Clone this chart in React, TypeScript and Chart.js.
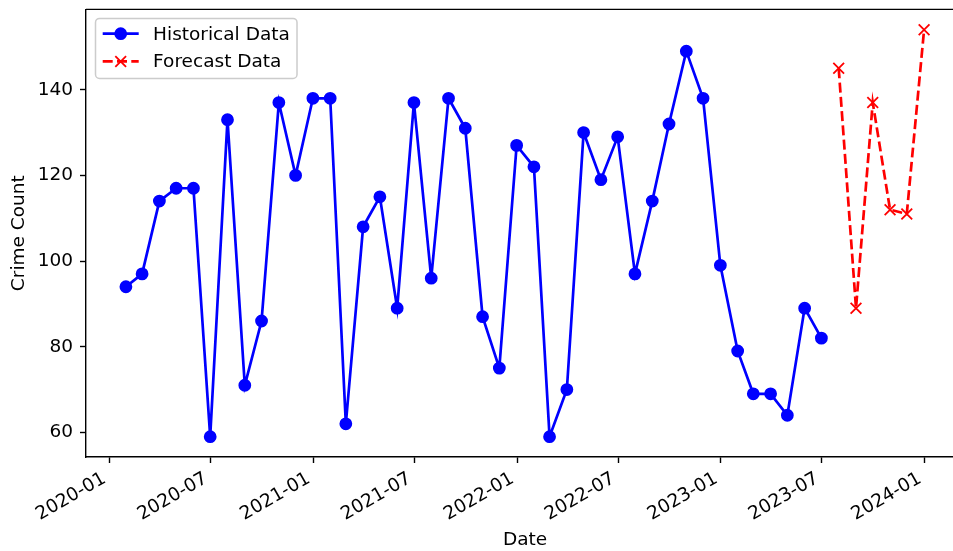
import React, { useEffect, useRef } from 'react';
import { Chart, registerables } from 'chart.js';

Chart.register(...registerables);

// ---- data ----
const historicalDates = [
  '2020-01-31', '2020-02-29', '2020-03-31', '2020-04-30', '2020-05-31', '2020-06-30',
  '2020-07-31', '2020-08-31', '2020-09-30', '2020-10-31', '2020-11-30', '2020-12-31',
  '2021-01-31', '2021-02-28', '2021-03-31', '2021-04-30', '2021-05-31', '2021-06-30',
  '2021-07-31', '2021-08-31', '2021-09-30', '2021-10-31', '2021-11-30', '2021-12-31',
  '2022-01-31', '2022-02-28', '2022-03-31', '2022-04-30', '2022-05-31', '2022-06-30',
  '2022-07-31', '2022-08-31', '2022-09-30', '2022-10-31', '2022-11-30', '2022-12-31',
  '2023-01-31', '2023-02-28', '2023-03-31', '2023-04-30', '2023-05-31', '2023-06-30',
];
const historicalCounts = [
  94, 97, 114, 117, 117, 59,
  133, 71, 86, 137, 120, 138,
  138, 62, 108, 115, 89, 137,
  96, 138, 131, 87, 75, 127,
  122, 59, 70, 130, 119, 129,
  97, 114, 132, 149, 138, 99,
  79, 69, 69, 64, 89, 82,
];
const forecastDates = ['2023-07-31', '2023-08-31', '2023-09-30', '2023-10-31', '2023-11-30', '2023-12-31'];
const forecastCounts = [145, 89, 137, 112, 111, 154];

const xTickLabels = ['2020-01', '2020-07', '2021-01', '2021-07', '2022-01', '2022-07', '2023-01', '2023-07', '2024-01'];
const yTickValues = [60, 80, 100, 120, 140];
const seriesLabels = ['Historical Data', 'Forecast Data'];
const xAxisTitle = 'Date';
const yAxisTitle = 'Crime Count';

// ---- helpers ----
const toDay = (s: string) => {
  const p = s.split('-').map(Number);
  return Date.UTC(p[0], p[1] - 1, p[2] || 1) / 86400000;
};

const FONT_FAMILY = '"DejaVu Sans", "Liberation Sans", sans-serif';
const FS = 18.5;
const BLUE = '#0000ff';
const RED = '#ff0000';

export default function App() {
  const ref = useRef<HTMLCanvasElement | null>(null);

  useEffect(() => {
    const canvas = ref.current;
    if (!canvas) return;

    const hist = historicalDates.map((d, i) => ({ x: toDay(d), y: historicalCounts[i] }));
    const fc = forecastDates.map((d, i) => ({ x: toDay(d), y: forecastCounts[i] }));
    const allX = [...hist, ...fc].map((p) => p.x);
    const allY = [...hist, ...fc].map((p) => p.y);
    const x0 = Math.min(...allX), x1 = Math.max(...allX);
    const y0 = Math.min(...allY), y1 = Math.max(...allY);
    const xm = (x1 - x0) * 0.05, ym = (y1 - y0) * 0.05;
    const xTickValues = xTickLabels.map((l) => toDay(l + '-01'));

    const framePlugin = {
      id: 'framePlugin',
      afterDraw(chart: any) {
        const ctx = chart.ctx;
        const ca = chart.chartArea;
        ctx.save();
        // top & right spines
        ctx.strokeStyle = '#000';
        ctx.lineWidth = 1.4;
        ctx.beginPath();
        ctx.moveTo(ca.left, ca.top);
        ctx.lineTo(ca.right, ca.top);
        ctx.lineTo(ca.right, ca.bottom);
        ctx.stroke();

        // rotated x tick labels (matplotlib style: bbox right at tick, bbox top below tick)
        const xs = chart.scales.x;
        ctx.font = `${FS}px ${FONT_FAMILY}`;
        ctx.fillStyle = '#000';
        ctx.textAlign = 'right';
        ctx.textBaseline = 'alphabetic';
        const th = Math.PI / 6;
        const h = FS * 0.983;
        const desc = FS * 0.236;
        const topY = ca.bottom + 6.3 + 6.3;
        xTickLabels.forEach((lab, i) => {
          const px = xs.getPixelForValue(xTickValues[i]);
          ctx.save();
          ctx.translate(px, topY + h * Math.cos(th));
          ctx.rotate(-th);
          ctx.fillText(lab, 0, -desc);
          ctx.restore();
        });

        // legend
        const bx = ca.left + 9.5;
        const by = ca.top + 9;
        const pad = 7.2, hl = 36, tp = 14.4;
        const tw = Math.max(...seriesLabels.map((l) => ctx.measureText(l).width));
        const bw = pad + hl + tp + tw + pad;
        const bh = 60;
        const r = 4;
        ctx.beginPath();
        ctx.moveTo(bx + r, by);
        ctx.lineTo(bx + bw - r, by);
        ctx.arcTo(bx + bw, by, bx + bw, by + r, r);
        ctx.lineTo(bx + bw, by + bh - r);
        ctx.arcTo(bx + bw, by + bh, bx + bw - r, by + bh, r);
        ctx.lineTo(bx + r, by + bh);
        ctx.arcTo(bx, by + bh, bx, by + bh - r, r);
        ctx.lineTo(bx, by + r);
        ctx.arcTo(bx, by, bx + r, by, r);
        ctx.closePath();
        ctx.fillStyle = 'rgba(255,255,255,0.8)';
        ctx.fill();
        ctx.strokeStyle = '#cccccc';
        ctx.lineWidth = 1.5;
        ctx.stroke();

        const rows = [by + 15.3, by + 43];
        const hx0 = bx + pad;
        const hx1 = hx0 + hl;
        const mx = (hx0 + hx1) / 2;
        chart.data.datasets.forEach((ds: any, i: number) => {
          const yy = rows[i];
          ctx.save();
          ctx.strokeStyle = ds.borderColor;
          ctx.lineWidth = ds.borderWidth;
          ctx.setLineDash(ds.borderDash || []);
          ctx.beginPath();
          ctx.moveTo(hx0, yy);
          ctx.lineTo(hx1, yy);
          ctx.stroke();
          ctx.setLineDash([]);
          if (ds.pointStyle === 'circle') {
            ctx.fillStyle = ds.pointBackgroundColor;
            ctx.lineWidth = ds.pointBorderWidth;
            ctx.beginPath();
            ctx.arc(mx, yy, ds.pointRadius, 0, Math.PI * 2);
            ctx.fill();
            ctx.stroke();
          } else {
            const o = ds.pointRadius * Math.SQRT1_2;
            ctx.lineWidth = ds.pointBorderWidth;
            ctx.beginPath();
            ctx.moveTo(mx - o, yy - o);
            ctx.lineTo(mx + o, yy + o);
            ctx.moveTo(mx - o, yy + o);
            ctx.lineTo(mx + o, yy - o);
            ctx.stroke();
          }
          ctx.restore();
          ctx.fillStyle = '#000';
          ctx.textAlign = 'left';
          ctx.textBaseline = 'middle';
          ctx.font = `${FS}px ${FONT_FAMILY}`;
          ctx.fillText(ds.label, hx1 + tp, yy + 1);
        });
        ctx.restore();
      },
    };

    const font = { family: FONT_FAMILY, size: FS };

    const chart = new Chart(canvas, {
      type: 'line',
      data: {
        datasets: [
          {
            label: seriesLabels[0],
            data: hist,
            borderColor: BLUE,
            backgroundColor: BLUE,
            borderWidth: 2.7,
            pointStyle: 'circle',
            pointRadius: 5.5,
            pointBorderWidth: 1.8,
            pointBackgroundColor: BLUE,
            pointBorderColor: BLUE,
            tension: 0,
          },
          {
            label: seriesLabels[1],
            data: fc,
            borderColor: RED,
            backgroundColor: RED,
            borderWidth: 2.7,
            borderDash: [10, 4.3],
            pointStyle: 'crossRot',
            pointRadius: 7.6,
            pointBorderWidth: 1.8,
            pointBackgroundColor: RED,
            pointBorderColor: RED,
            tension: 0,
          },
        ],
      } as any,
      options: {
        responsive: false,
        animation: false,
        devicePixelRatio: 1,
        layout: { padding: { top: 9, right: 11, left: 0, bottom: 0 } },
        plugins: {
          legend: { display: false },
          tooltip: { enabled: false },
        },
        scales: {
          x: {
            type: 'linear',
            min: x0 - xm,
            max: x1 + xm,
            afterFit: (s: any) => { s.height = 94; s.paddingLeft = 0; s.paddingRight = 0; },
            afterBuildTicks: (s: any) => { s.ticks = xTickValues.map((v) => ({ value: v })); },
            ticks: { display: false, autoSkip: false },
            grid: { drawOnChartArea: false, drawTicks: true, tickLength: 6, tickWidth: 1.4, tickColor: '#000' },
            border: { display: true, color: '#000', width: 1.4 },
            title: { display: true, text: xAxisTitle, font, color: '#000', padding: { top: 0, bottom: 0 } },
          },
          y: {
            type: 'linear',
            min: y0 - ym,
            max: y1 + ym,
            afterFit: (s: any) => { s.width = 86; s.paddingTop = 0; s.paddingBottom = 0; },
            afterBuildTicks: (s: any) => { s.ticks = yTickValues.map((v) => ({ value: v })); },
            ticks: { font, color: '#000', padding: 7, autoSkip: false },
            grid: { drawOnChartArea: false, drawTicks: true, tickLength: 6, tickWidth: 1.4, tickColor: '#000' },
            border: { display: true, color: '#000', width: 1.4 },
            title: { display: true, text: yAxisTitle, font, color: '#000', padding: { top: 8, bottom: 0 } },
          },
        },
      } as any,
      plugins: [framePlugin],
    });

    return () => chart.destroy();
  }, []);

  return (
    <div style={{ position: 'absolute', left: 0, top: 0, width: 953, height: 551, overflow: 'hidden', background: '#fff' }}>
      <canvas ref={ref} width={975} height={551} style={{ display: 'block', width: 975, height: 551 }} />
    </div>
  );
}
